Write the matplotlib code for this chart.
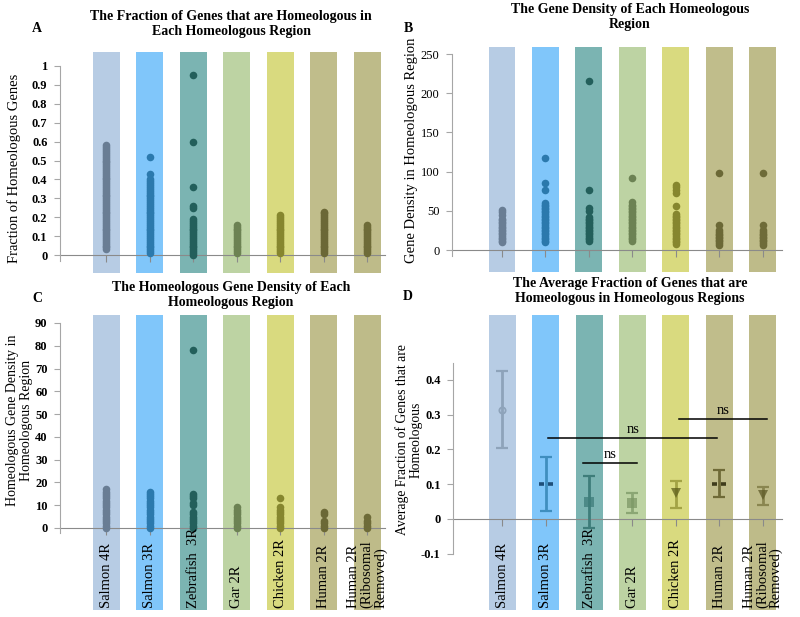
import matplotlib
matplotlib.use('Agg')
import matplotlib.pyplot as plt
import matplotlib.transforms as mtransforms
from matplotlib.path import Path

plt.rcParams['font.family'] = ['Liberation Serif', 'DejaVu Serif']

# ================================================
# Data
# ================================================
groups = ['Salmon 4R', 'Salmon 3R', 'Zebrafish  3R', 'Gar 2R', 'Chicken 2R',
          'Human 2R', 'Human 2R\n(Ribosomal\nRemoved)']
band_colors = ['#b7cce4', '#80c6fa', '#7bb4b2', '#bdd3a3', '#d9da7f', '#c0bd8b', '#bebb89']
dot_colors = ['#697d94', '#2b79ad', '#235f5b', '#6c8253', '#86862e', '#6b6836', '#6e6b38']
err_colors = ['#8ea3ba', '#3f8ebf', '#3e7d7a', '#8ba674', '#a3a345', '#6f6a37', '#8a8650']
mark_colors = ['#8ea3ba', '#1f4f7a', '#3e7d7a', '#7d9866', '#5e5e1c', '#3f3c1c', '#5e5a28']

# A: fraction of homeologous genes per region
frac_salmon4 = [0.03, 0.04, 0.05, 0.06, 0.07, 0.08, 0.09, 0.10, 0.11, 0.12, 0.13, 0.14, 0.15,
                0.16, 0.17, 0.18, 0.19, 0.20, 0.21, 0.22, 0.23, 0.24, 0.25, 0.26, 0.27, 0.28,
                0.29, 0.30, 0.31, 0.32, 0.33, 0.34, 0.35, 0.36, 0.37, 0.38, 0.39, 0.40, 0.41,
                0.42, 0.43, 0.44, 0.45, 0.46, 0.47, 0.48, 0.49, 0.50, 0.51, 0.52, 0.53, 0.54,
                0.55, 0.56, 0.57, 0.58]
frac_salmon3 = [0.01, 0.02, 0.03, 0.04, 0.05, 0.06, 0.07, 0.08, 0.09, 0.10, 0.11, 0.12, 0.13,
                0.14, 0.15, 0.16, 0.17, 0.18, 0.19, 0.20, 0.21, 0.22, 0.23, 0.24, 0.25, 0.26,
                0.27, 0.28, 0.29, 0.30, 0.31, 0.32, 0.33, 0.34, 0.35, 0.36, 0.37, 0.38, 0.39,
                0.40, 0.43, 0.52]
frac_zebrafish = [0.0, 0.01, 0.02, 0.03, 0.04, 0.05, 0.06, 0.07, 0.08, 0.09, 0.10, 0.11, 0.12,
                  0.13, 0.14, 0.15, 0.16, 0.17, 0.18, 0.19, 0.25, 0.26, 0.36, 0.60, 0.95]
frac_gar = [0.01, 0.02, 0.03, 0.04, 0.05, 0.06, 0.07, 0.08, 0.09, 0.10, 0.11, 0.12, 0.13,
            0.14, 0.15, 0.16]
frac_chicken = [0.01, 0.02, 0.03, 0.04, 0.05, 0.06, 0.07, 0.08, 0.09, 0.10, 0.11, 0.12, 0.13,
                0.14, 0.15, 0.16, 0.17, 0.18, 0.19, 0.20, 0.21]
frac_human = [0.01, 0.02, 0.03, 0.04, 0.05, 0.06, 0.07, 0.08, 0.09, 0.10, 0.11, 0.12, 0.13,
              0.14, 0.15, 0.16, 0.17, 0.18, 0.19, 0.20, 0.21, 0.22, 0.23]
frac_human_rib = [0.01, 0.02, 0.03, 0.04, 0.05, 0.06, 0.07, 0.08, 0.09, 0.10, 0.11, 0.12,
                  0.13, 0.14, 0.15, 0.16]
frac_data = [frac_salmon4, frac_salmon3, frac_zebrafish, frac_gar, frac_chicken,
             frac_human, frac_human_rib]

# B: gene density per region
dens_salmon4 = [10, 12, 14, 16, 18, 20, 22, 24, 26, 28, 30, 32, 34, 36, 38, 40, 45, 48, 51]
dens_salmon3 = [10, 12, 14, 16, 18, 20, 22, 24, 26, 28, 30, 32, 34, 36, 38, 40, 42, 44, 46,
                48, 50, 52, 54, 56, 58, 60, 77, 86, 117]
dens_zebrafish = [12, 14, 16, 18, 20, 22, 24, 26, 28, 30, 32, 34, 36, 38, 40, 42, 50, 53,
                  77, 215]
dens_gar = [12, 14, 16, 18, 20, 22, 24, 26, 28, 30, 32, 34, 36, 38, 40, 42, 44, 46, 48, 50,
            52, 54, 56, 58, 61, 92]
dens_chicken = [8, 10, 12, 14, 16, 18, 20, 22, 24, 26, 28, 30, 32, 34, 36, 38, 40, 42, 44,
                46, 56, 73, 77, 81, 83]
dens_human = [7, 9, 11, 13, 15, 17, 19, 21, 23, 25, 32, 98]
dens_human_rib = [7, 9, 11, 13, 15, 17, 19, 21, 23, 25, 32, 98]
dens_data = [dens_salmon4, dens_salmon3, dens_zebrafish, dens_gar, dens_chicken,
             dens_human, dens_human_rib]

# C: homeologous gene density per region
hdens_salmon4 = [0, 1, 2, 3, 4, 5, 6, 7, 8, 9, 10, 11, 12, 13, 14, 15, 16, 17]
hdens_salmon3 = [0, 1, 2, 3, 4, 5, 6, 7, 8, 9, 10, 11, 12, 13, 14, 15, 16]
hdens_zebrafish = [0, 1, 2, 3, 4, 5, 6, 7, 10, 11, 13, 14, 15, 78]
hdens_gar = [0, 1, 2, 3, 4, 5, 6, 7, 8, 9]
hdens_chicken = [0, 1, 2, 3, 4, 5, 6, 7, 8, 9, 13]
hdens_human = [0, 1, 2, 3, 6, 7]
hdens_human_rib = [0, 1, 2, 3, 5]
hdens_data = [hdens_salmon4, hdens_salmon3, hdens_zebrafish, hdens_gar, hdens_chicken,
              hdens_human, hdens_human_rib]

# D: average fraction with error bars
avg_mean = [0.315, 0.100, 0.050, 0.045, 0.075, 0.100, 0.070]
avg_low = [0.205, 0.022, -0.025, 0.018, 0.032, 0.063, 0.040]
avg_high = [0.427, 0.178, 0.123, 0.075, 0.108, 0.140, 0.093]
avg_markers = ['o', 'dash', 's', 's', 'v', 'dash', 'v']
# significance comparisons: (first group, second group, bar height)
ns_pairs = [(2, 3, 0.162), (1, 5, 0.233), (4, 6, 0.288)]

x = list(range(len(groups)))
W, H = 800, 617

# two short dashes marker
dash_marker = Path([(-1, 0), (-0.25, 0), (0.25, 0), (1, 0)],
                   [Path.MOVETO, Path.LINETO, Path.MOVETO, Path.LINETO])


def make_axes(left, right, top, bottom):
    return plt.gcf().add_axes([left / W, (H - bottom) / H, (right - left) / W, (bottom - top) / H])


def style_axes(ax, ylim, xlim, yticks, yticklabels, spine_bounds, weight='bold'):
    ax.set_xlim(*xlim)
    ax.set_ylim(*ylim)
    for i, c in enumerate(band_colors):
        ax.axvspan(i - 0.31, i + 0.31, color=c, lw=0, zorder=0)
    for s in ['top', 'right']:
        ax.spines[s].set_visible(False)
    ax.spines['left'].set_bounds(*spine_bounds)
    ax.spines['left'].set_color('#a6a6a6')
    ax.spines['bottom'].set_position(('data', 0))
    ax.spines['bottom'].set_color('#8a8a8a')
    ax.spines['bottom'].set_zorder(1)
    ax.set_xticks(x)
    ax.set_xticklabels([])
    ax.tick_params(axis='x', direction='out', length=5, color='#8a8a8a', width=0.8)
    ax.set_yticks(yticks)
    ax.set_yticklabels(yticklabels, fontsize=9, fontweight=weight)
    ax.tick_params(axis='y', direction='out', length=4, color='#a6a6a6', width=0.8, pad=5)


def strip(ax, data):
    for i, vals in enumerate(data):
        ax.scatter([i] * len(vals), vals, s=30, color=dot_colors[i], lw=0, zorder=3)


def category_labels(ax):
    trans = mtransforms.blended_transform_factory(ax.transData, ax.transAxes)
    for i, g in enumerate(groups):
        ax.text(i, 0.008, g, transform=trans, rotation=90, rotation_mode='anchor',
                ha='left', va='center', fontsize=10.5, multialignment='left', linespacing=1.0)


def ylabel(px, py, txt, size=10.5):
    fig.text(px / W, 1 - py / H, txt, rotation=90, ha='center', va='center',
             fontsize=size, linespacing=1.1)


fig = plt.figure(figsize=(8, 6.17), dpi=100)

# Panel A
axA = make_axes(60, 385, 52, 273)
style_axes(axA, (-0.095, 1.074), (-1.06, 6.41), [i / 10 for i in range(11)],
           ['0', '0.1', '0.2', '0.3', '0.4', '0.5', '0.6', '0.7', '0.8', '0.9', '1'], (-0.03, 1.0))
strip(axA, frac_data)
ylabel(14, 168, 'Fraction of Homeologous Genes')

# Panel B
axB = make_axes(452, 782, 47, 272)
style_axes(axB, (-28, 259), (-1.15, 6.44), [0, 50, 100, 150, 200, 250],
           ['0', '50', '100', '150', '200', '250'], (-7, 250), weight='normal')
strip(axB, dens_data)
ylabel(411, 150, 'Gene Density in Homeologous Region')

# Panel C
axC = make_axes(60, 385, 315, 610)
style_axes(axC, (-36.0, 93.5), (-1.06, 6.41), list(range(0, 100, 10)),
           [str(v) for v in range(0, 100, 10)], (-2, 90))
strip(axC, hdens_data)
category_labels(axC)
ylabel(20, 420, 'Homeologous Gene Density in\nHomeologous Region', size=10)

# Panel D
axD = make_axes(453, 782, 315, 610)
style_axes(axD, (-0.262, 0.587), (-1.13, 6.44), [-0.1, 0, 0.1, 0.2, 0.3, 0.4],
           ['-0.1', '0', '0.1', '0.2', '0.3', '0.4'], (-0.1, 0.449))
for i in x:
    axD.errorbar(i, avg_mean[i], yerr=[[avg_mean[i] - avg_low[i]], [avg_high[i] - avg_mean[i]]],
                 fmt='none', ecolor=err_colors[i], elinewidth=2, capsize=4, capthick=1.6, zorder=3)
    m = avg_markers[i]
    if m == 'o':
        axD.plot(i, avg_mean[i], marker='o', ms=4.5, color=mark_colors[i], mfc='none', mew=1.3, zorder=4)
    elif m == 'dash':
        axD.plot(i, avg_mean[i], marker=dash_marker, ms=10, color=mark_colors[i], mew=2.6, zorder=4)
    else:
        axD.plot(i, avg_mean[i], marker=m, ms=7, color=mark_colors[i], alpha=0.75, mew=0, zorder=4)
for a, b, h in ns_pairs:
    x0, x1 = a - 0.14 if a == 2 else a + 0.06, b + 0.1 if b != 5 else b - 0.05
    axD.plot([x0, x1], [h, h], color='black', lw=1.1, zorder=5)
    axD.text((x0 + x1) / 2, h + 0.006, 'ns', ha='center', va='bottom', fontsize=10.5, zorder=5)
category_labels(axD)
ylabel(409, 440, 'Average Fraction of Genes that are\nHomeologous', size=9.8)

# Titles and panel letters
fig.text(231 / W, 1 - 24 / H, 'The Fraction of Genes that are Homeologous in\nEach Homeologous Region',
         ha='center', va='center', fontsize=10, fontweight='bold', linespacing=1.25)
fig.text(630 / W, 1 - 17 / H, 'The Gene Density of Each Homeologous\nRegion',
         ha='center', va='center', fontsize=10, fontweight='bold', linespacing=1.25)
fig.text(231 / W, 1 - 295 / H, 'The Homeologous Gene Density of Each\nHomeologous Region',
         ha='center', va='center', fontsize=10, fontweight='bold', linespacing=1.25)
fig.text(630 / W, 1 - 291 / H, 'The Average Fraction of Genes that are\nHomeologous in Homeologous Regions',
         ha='center', va='center', fontsize=10, fontweight='bold', linespacing=1.25)
for letter, px, py in [('A', 37, 28), ('B', 408, 28), ('C', 37, 299), ('D', 408, 297)]:
    fig.text(px / W, 1 - py / H, letter, ha='center', va='center', fontsize=10, fontweight='bold')

fig.savefig('out.png', dpi=100)
